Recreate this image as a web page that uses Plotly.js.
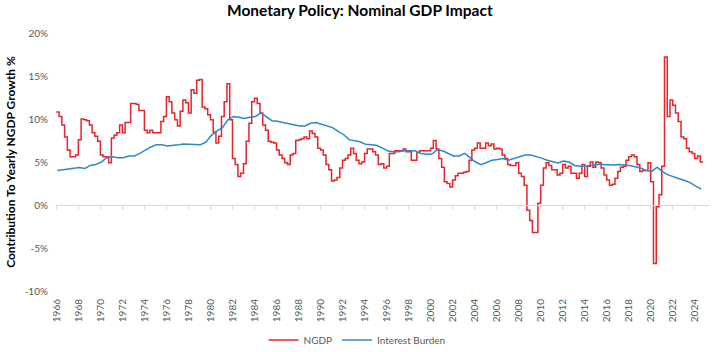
<!DOCTYPE html>
<html>
<head>
<meta charset="utf-8">
<script src="https://cdn.plot.ly/plotly-3.0.1.min.js"></script>
<style>html,body{margin:0;padding:0;background:#fff;}#chart{width:714px;height:352px;}</style>
</head>
<body>
<div id="chart"></div>
<script>
// NGDP year-over-year growth (%), quarterly, starting 1966 Q1
const ngdpStartYear = 1966;
const ngdp = [
  10.8, 10.3, 9.3, 7.9,   // 1966
  6.4, 5.6, 5.6, 5.8,     // 1967
  7.6, 10.0, 9.9, 9.8,    // 1968
  9.3, 8.4, 8.0, 7.4,     // 1969
  5.8, 5.6, 5.6, 4.9,     // 1970
  7.8, 8.1, 8.4, 9.3,     // 1971
  8.4, 9.6, 9.6, 11.8,    // 1972
  11.8, 11.7, 11.0, 11.0, // 1973
  8.7, 8.4, 8.7, 8.4,     // 1974
  8.4, 8.4, 9.7, 10.3,    // 1975
  12.6, 12.0, 10.7, 9.9,  // 1976
  9.2, 10.9, 12.2, 11.9,  // 1977
  10.7, 13.4, 13.0, 14.5, // 1978
  14.6, 11.4, 11.2, 10.5, // 1979
  9.9, 8.5, 7.2, 8.0,     // 1980
  10.3, 12.0, 14.1, 9.9,  // 1981
  5.4, 4.7, 3.3, 3.7,     // 1982
  4.8, 7.4, 9.5, 12.0,    // 1983
  12.4, 11.8, 10.7, 9.3,  // 1984
  8.7, 7.4, 7.3, 7.2,     // 1985
  6.4, 5.8, 5.4, 4.9,     // 1986
  4.7, 5.8, 6.0, 7.5,     // 1987
  7.6, 7.7, 7.9, 7.7,     // 1988
  8.6, 8.3, 7.9, 6.6,     // 1989
  6.4, 5.8, 4.7, 4.1,     // 1990
  2.8, 2.9, 3.2, 4.3,     // 1991
  5.2, 5.4, 5.8, 6.6,     // 1992
  6.0, 5.2, 4.8, 5.0,     // 1993
  6.0, 6.5, 6.5, 6.2,     // 1994
  5.8, 4.7, 4.8, 4.3,     // 1995
  4.5, 6.0, 6.0, 6.3,     // 1996
  6.3, 6.3, 6.5, 6.2,     // 1997
  6.2, 5.2, 5.2, 6.1,     // 1998
  6.3, 6.3, 6.3, 6.3,     // 1999
  6.6, 7.5, 6.5, 5.4,     // 2000
  4.4, 2.7, 2.5, 2.1,     // 2001
  2.9, 3.4, 3.7, 3.7,     // 2002
  3.8, 3.9, 5.2, 6.4,     // 2003
  6.6, 7.2, 6.6, 6.6,     // 2004
  7.2, 6.9, 7.1, 6.5,     // 2005
  6.6, 6.5, 5.8, 5.4,     // 2006
  4.7, 4.6, 4.6, 4.9,     // 2007
  3.7, 3.3, 2.3, -0.6,    // 2008
  -1.8, -3.2, -3.2, 0.2,  // 2009
  2.3, 4.3, 4.9, 4.6,     // 2010
  4.1, 4.1, 3.5, 3.7,     // 2011
  4.7, 4.3, 4.5, 3.7,     // 2012
  3.7, 3.1, 3.7, 4.7,     // 2013
  3.3, 4.5, 5.0, 4.4,     // 2014
  5.0, 4.9, 4.3, 3.5,     // 2015
  2.9, 2.3, 2.4, 3.1,     // 2016
  3.9, 4.4, 4.5, 5.2,     // 2017
  5.6, 5.8, 5.6, 4.7,     // 2018
  3.9, 4.0, 4.0, 4.9,     // 2019
  2.7, -6.8, -0.2, 1.2,   // 2020
  4.5, 17.2, 10.3, 12.2,  // 2021
  11.6, 10.7, 9.7, 7.9,   // 2022
  7.7, 6.6, 6.2, 6.0,     // 2023
  5.4, 5.7, 5.0, 5.0      // 2024
];

// Interest burden contribution (%), half-yearly, starting early 1966
const burdenStartYear = 1966;
const burden = [
  4.0, 4.1,  4.2, 4.3,  4.35, 4.25,  4.6, 4.7,  5.0, 5.5,     // 1966-1970
  5.6, 5.5,  5.5, 5.7,  5.7, 6.0,  6.4, 6.75,  7.0, 7.0,      // 1971-1975
  6.85, 6.9,  7.0, 7.1,  7.05, 7.0,  7.0, 7.3,  8.1, 8.6,     // 1976-1980
  9.0, 9.9,  10.3, 10.2,  10.05, 10.2,  10.3, 10.7,  10.2, 9.8, // 1981-1985
  9.75, 9.6,  9.5, 9.3,  9.2, 9.2,  9.5, 9.6,  9.4, 9.2,      // 1986-1990
  9.0, 8.6,  8.2, 7.6,  7.5, 7.35,  7.05, 7.0,  6.95, 6.65,   // 1991-1995
  6.3, 6.2,  6.2, 6.3,  6.3, 6.3,  6.0, 5.9,  5.9, 6.4,       // 1996-2000
  6.3, 6.0,  5.7, 5.7,  6.0, 5.5,  5.0, 4.7,  5.0, 5.2,       // 2001-2005
  5.3, 5.4,  5.2, 5.4,  5.6, 5.8,  5.8, 5.65,  5.45, 5.2,     // 2006-2010
  5.05, 4.9,  5.1, 5.0,  4.6, 4.5,  4.5, 4.6,  4.7, 4.7,      // 2011-2015
  4.65, 4.65,  4.7, 4.65,  4.6, 4.45,  4.3, 4.0,  3.9, 4.4,   // 2016-2020
  3.85, 3.5,  3.25, 3.05,  2.85, 2.6,  2.2, 1.85              // 2021-2024
];

const yTicks = [-10, -5, 0, 5, 10, 15, 20];
const yTickText = yTicks.map(v => v + '%');
const seriesNames = ['NGDP', 'Interest Burden'];

function pad(n){ return (n < 10 ? '0' : '') + n; }
function periodDates(startYear, monthsPerStep, firstMonth, count){
  const out = [];
  for (let i = 0; i < count; i++) {
    const m = firstMonth - 1 + i * monthsPerStep;
    const y = startYear + Math.floor(m / 12);
    out.push(y + '-' + pad(m % 12 + 1) + '-01');
  }
  return out;
}

const ngdpDates = periodDates(ngdpStartYear, 3, 1, ngdp.length);
const burdenDates = periodDates(burdenStartYear, 6, 2, burden.length);

const xRange = ['1965-12-20', '2025-05-20'];
const grey = '#595959';
const fontFam = 'Lato, "Open Sans", "DejaVu Sans", sans-serif';

const traces = [
  {x: ngdpDates, y: ngdp, name: seriesNames[0], type: 'scatter', mode: 'lines',
   line: {color: '#E3262C', width: 1.5, shape: 'hv'}, xaxis: 'x', yaxis: 'y'},
  {x: burdenDates, y: burden, name: seriesNames[1], type: 'scatter', mode: 'lines',
   line: {color: '#2E88C6', width: 1.5}, xaxis: 'x2', yaxis: 'y'}
];

const layout = {
  width: 714, height: 352,
  margin: {l: 56, r: 4, t: 33, b: 61},
  paper_bgcolor: '#fff', plot_bgcolor: '#fff',
  font: {family: fontFam, color: grey, size: 10},
  title: {text: 'Monetary Policy: Nominal GDP Impact', x: 0.504, xanchor: 'center', y: 0.985, yanchor: 'top',
          font: {family: fontFam, size: 15.5, color: '#000', weight: 'bold'}},
  showlegend: true,
  legend: {orientation: 'h', x: 0.5, xanchor: 'center', xref: 'container', yref: 'container',
           y: 0.075, yanchor: 'top',
           font: {size: 10, color: grey}, traceorder: 'normal', itemwidth: 30},
  xaxis: {type: 'date', range: xRange, tick0: '1966-01-01', dtick: 'M24', tickformat: '%Y',
          tickangle: -90, showgrid: false, zeroline: false, showline: false, ticks: '',
          tickfont: {size: 10, color: grey}, ticklabelstandoff: 5, automargin: false, fixedrange: true},
  xaxis2: {type: 'date', range: xRange, tick0: '1966-01-01', dtick: 'M24', overlaying: 'x',
           anchor: 'free', position: 1/3, side: 'bottom', showticklabels: false, automargin: false,
           showgrid: false, zeroline: false, showline: true, linecolor: '#D9D9D9', linewidth: 1,
           ticks: 'outside', ticklen: 4, tickcolor: '#D9D9D9', tickwidth: 1},
  yaxis: {range: [-10, 20], tickvals: yTicks, ticktext: yTickText, showgrid: false, zeroline: false,
          showline: false, ticks: '', tickfont: {size: 10, color: grey}, ticklabelstandoff: 7,
          automargin: false,
          title: {text: 'Contribution To Yearly NGDP Growth %', standoff: 6,
                  font: {family: fontFam, size: 12, color: '#000', weight: 'bold'}}}
};

Plotly.newPlot('chart', traces, layout, {displayModeBar: false, staticPlot: true});
</script>
</body>
</html>
